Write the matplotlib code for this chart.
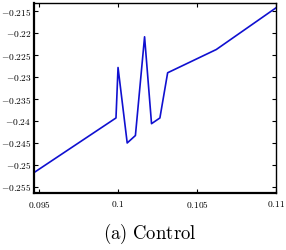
import matplotlib
matplotlib.use("Agg")
import matplotlib.pyplot as plt
import numpy as np
from matplotlib.ticker import FuncFormatter

# values
x = [0.0947, 0.09987, 0.1, 0.10058, 0.1011, 0.10168, 0.10212, 0.10265, 0.10314, 0.10622, 0.11]
y = [-0.2517, -0.2393, -0.2278, -0.2450, -0.2433, -0.2208, -0.2406, -0.2393, -0.2290, -0.2237, -0.2142]
xticks = [0.095, 0.1, 0.105, 0.11]
yticks = [-0.255, -0.25, -0.245, -0.24, -0.235, -0.23, -0.225, -0.22, -0.215]
caption = "(a) Control"

plt.rcParams['font.family'] = 'serif'
plt.rcParams['font.serif'] = ['DejaVu Serif']
plt.rcParams['mathtext.fontset'] = 'cm'

fig = plt.figure(figsize=(2.86, 2.5), dpi=100)
ax = fig.add_axes([34 / 286, 1 - 193 / 250, 242 / 286, 190 / 250])
ax.plot(x, y, color='#1010d0', lw=1.2)

ax.set_xlim(0.09468, 0.11)
ax.set_ylim(-0.2564, -0.2131)
ax.set_xticks(xticks)
ax.set_yticks(yticks)

fmt = FuncFormatter(lambda v, p: r'$%s$' % ('%g' % v))
ax.xaxis.set_major_formatter(fmt)
ax.yaxis.set_major_formatter(fmt)
ax.tick_params(direction='in', top=True, right=True, length=3, width=0.8, labelsize=6.8, pad=2)
ax.tick_params(axis='x', pad=4)
for s in ['left', 'bottom']:
    ax.spines[s].set_linewidth(1.6)
for s in ['top', 'right']:
    ax.spines[s].set_linewidth(1.0)

fig.text(150 / 286, 1 - 234 / 250, r'$\mathrm{(a)\ Control}$', ha='center', va='center', fontsize=13.5)

fig.savefig('out.png', dpi=100)
